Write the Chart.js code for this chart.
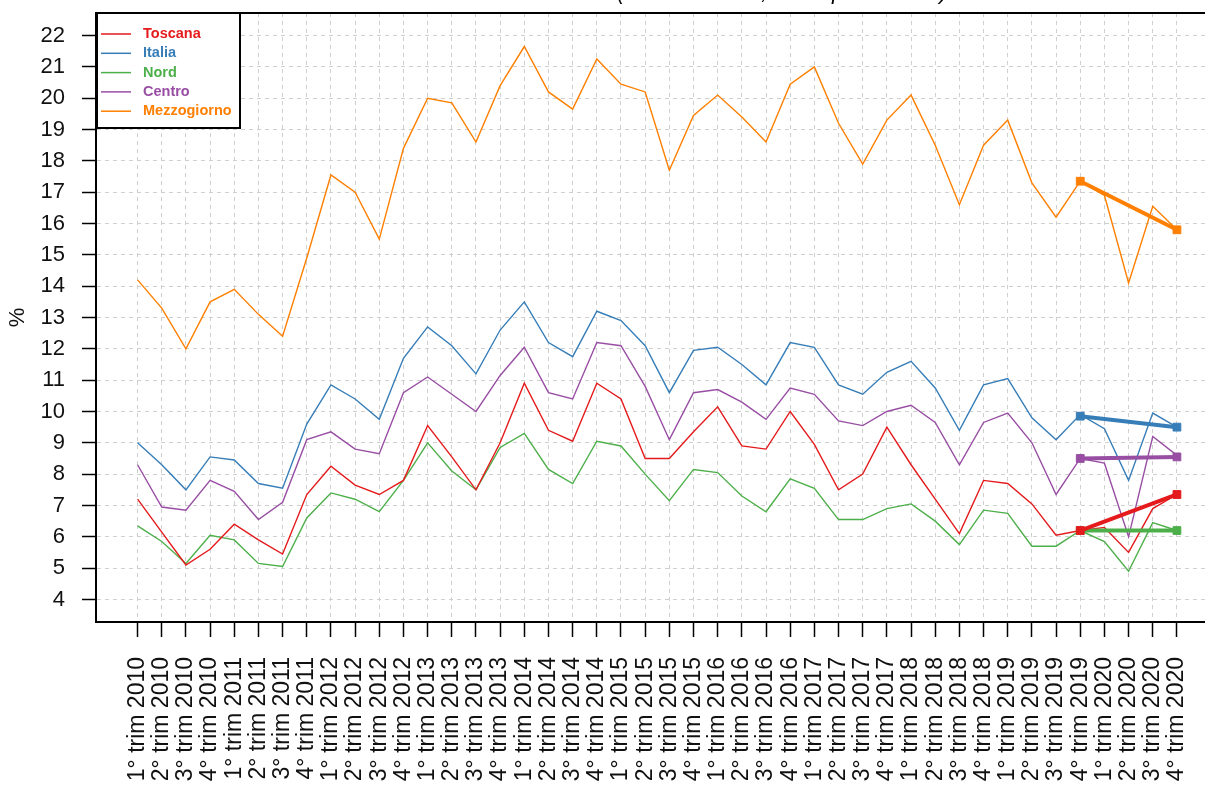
<!DOCTYPE html>
<html>
<head>
<meta charset="utf-8">
<script src="https://cdn.jsdelivr.net/npm/chart.js@4.4.0/dist/chart.umd.min.js"></script>
<style>
  html, body { margin: 0; padding: 0; background: #fff; overflow: hidden; }
  #wrap { width: 1225px; height: 787px; }
</style>
</head>
<body>
<div id="wrap"><canvas id="chart" width="1225" height="787"></canvas></div>
<script>
const quarters = [
  '1° trim 2010', '2° trim 2010', '3° trim 2010', '4° trim 2010',
  '1° trim 2011', '2° trim 2011', '3° trim 2011', '4° trim 2011',
  '1° trim 2012', '2° trim 2012', '3° trim 2012', '4° trim 2012',
  '1° trim 2013', '2° trim 2013', '3° trim 2013', '4° trim 2013',
  '1° trim 2014', '2° trim 2014', '3° trim 2014', '4° trim 2014',
  '1° trim 2015', '2° trim 2015', '3° trim 2015', '4° trim 2015',
  '1° trim 2016', '2° trim 2016', '3° trim 2016', '4° trim 2016',
  '1° trim 2017', '2° trim 2017', '3° trim 2017', '4° trim 2017',
  '1° trim 2018', '2° trim 2018', '3° trim 2018', '4° trim 2018',
  '1° trim 2019', '2° trim 2019', '3° trim 2019', '4° trim 2019',
  '1° trim 2020', '2° trim 2020', '3° trim 2020', '4° trim 2020'
];

const toscana = [7.2, 6.15, 5.1, 5.6, 6.4, 5.9, 5.45, 7.35, 8.25, 7.65, 7.35, 7.8,
  9.55, 8.55, 7.5, 9.0, 10.9, 9.4, 9.05, 10.9, 10.4, 8.5, 8.5, 9.35,
  10.15, 8.9, 8.8, 10.0, 8.95, 7.5, 8.0, 9.5, 8.3, 7.2, 6.1, 7.8,
  7.7, 7.05, 6.05, 6.2, 6.3, 5.5, 6.9, 7.35];
const italia = [9.0, 8.3, 7.5, 8.55, 8.45, 7.7, 7.55, 9.6, 10.85, 10.4, 9.75, 11.7,
  12.7, 12.1, 11.2, 12.6, 13.5, 12.2, 11.75, 13.2, 12.9, 12.1, 10.6, 11.95,
  12.05, 11.5, 10.85, 12.2, 12.05, 10.85, 10.55, 11.25, 11.6, 10.75, 9.4, 10.85,
  11.05, 9.8, 9.1, 9.9, 9.45, 7.8, 9.95, 9.5];
const nord = [6.35, 5.85, 5.15, 6.05, 5.9, 5.15, 5.05, 6.6, 7.4, 7.2, 6.8, 7.8,
  9.0, 8.1, 7.5, 8.85, 9.3, 8.15, 7.7, 9.05, 8.9, 8.0, 7.15, 8.15,
  8.05, 7.3, 6.8, 7.85, 7.55, 6.55, 6.55, 6.9, 7.05, 6.5, 5.75, 6.85,
  6.75, 5.7, 5.7, 6.2, 5.85, 4.9, 6.45, 6.2];
const centro = [8.3, 6.95, 6.85, 7.8, 7.45, 6.55, 7.1, 9.1, 9.35, 8.8, 8.65, 10.6,
  11.1, 10.55, 10.0, 11.15, 12.05, 10.6, 10.4, 12.2, 12.1, 10.8, 9.1, 10.6,
  10.7, 10.3, 9.75, 10.75, 10.55, 9.7, 9.55, 10.0, 10.2, 9.65, 8.3, 9.65,
  9.95, 9.0, 7.35, 8.5, 8.35, 6.0, 9.2, 8.6];
const mezzogiorno = [14.2, 13.3, 12.0, 13.5, 13.9, 13.1, 12.4, 14.9, 17.55, 17.0, 15.5, 18.4,
  20.0, 19.85, 18.6, 20.4, 21.65, 20.2, 19.65, 21.25, 20.45, 20.2, 17.7, 19.45,
  20.1, 19.4, 18.6, 20.45, 21.0, 19.2, 17.9, 19.3, 20.1, 18.5, 16.6, 18.5,
  19.3, 17.3, 16.2, 17.35, 16.9, 14.1, 16.55, 15.8];

const seriesNames = ['Toscana', 'Italia', 'Nord', 'Centro', 'Mezzogiorno'];
const seriesValues = [toscana, italia, nord, centro, mezzogiorno];
const seriesColors = ['#e41a1c', '#377eb8', '#4daf4a', '#984ea3', '#ff7f00'];

// tendenza 4° trim 2019 -> 4° trim 2020
const trendFrom = 39;
const trendTo = 43;
const trendStart = [6.2, 9.85, 6.2, 8.5, 17.35];
const trendEnd = [7.35, 9.5, 6.2, 8.55, 15.8];

const yTicks = [4, 5, 6, 7, 8, 9, 10, 11, 12, 13, 14, 15, 16, 17, 18, 19, 20, 21, 22];
const chartTitle = '(dati trimestrali, valori percentuali)';

const FONT = '"Liberation Sans", Arial, sans-serif';

const datasets = [];
seriesNames.forEach((name, k) => {
  datasets.push({
    label: name,
    data: seriesValues[k].map((v, i) => ({ x: i, y: v })),
    borderColor: seriesColors[k],
    borderWidth: 1.4,
    pointRadius: 0,
    tension: 0,
    order: 1
  });
});
seriesNames.forEach((name, k) => {
  datasets.push({
    label: name + ' trend',
    data: [{ x: trendFrom, y: trendStart[k] }, { x: trendTo, y: trendEnd[k] }],
    borderColor: seriesColors[k],
    backgroundColor: seriesColors[k],
    borderWidth: 4,
    pointStyle: 'rect',
    pointRadius: 5.5,
    pointBorderWidth: 1,
    order: 0
  });
});

// cornice completa dell'area del grafico + legenda + titolo tagliato
const framePlugin = {
  id: 'frame',
  afterDraw(chart) {
    const ctx = chart.ctx;
    const a = chart.chartArea;
    ctx.save();
    ctx.setLineDash([]);
    ctx.lineWidth = 2;
    ctx.strokeStyle = '#000';
    ctx.strokeRect(a.left, a.top, a.right - a.left, a.bottom - a.top);

    // legenda
    const x0 = a.left + 1, y0 = a.top, w = 143, h = 115;
    ctx.fillStyle = '#fff';
    ctx.fillRect(x0, y0, w, h);
    ctx.strokeRect(x0, y0, w, h);
    ctx.font = 'bold 14.5px ' + FONT;
    ctx.textBaseline = 'middle';
    ctx.textAlign = 'left';
    seriesNames.forEach((name, k) => {
      const y = y0 + 21 + k * 19.3;
      ctx.strokeStyle = seriesColors[k];
      ctx.lineWidth = 1.5;
      ctx.beginPath();
      ctx.moveTo(x0 + 4, y);
      ctx.lineTo(x0 + 34, y);
      ctx.stroke();
      ctx.fillStyle = seriesColors[k];
      ctx.fillText(name, x0 + 46, y);
    });

    // titolo (fuori dall'immagine, si vede solo il fondo)
    ctx.fillStyle = '#000';
    ctx.font = 'italic 22px ' + FONT;
    ctx.textAlign = 'center';
    ctx.textBaseline = 'alphabetic';
    ctx.fillText(chartTitle, 782, -1);
    ctx.restore();
  }
};

new Chart(document.getElementById('chart').getContext('2d'), {
  type: 'line',
  data: { datasets: datasets },
  options: {
    responsive: false,
    animation: false,
    layout: { padding: { top: 13, right: 1, left: 0, bottom: 0 } },
    plugins: {
      legend: { display: false },
      tooltip: { enabled: false }
    },
    scales: {
      x: {
        type: 'linear',
        min: -1.72,
        max: 44.72,
        afterBuildTicks: (scale) => { scale.ticks = quarters.map((q, i) => ({ value: i })); },
        afterFit: (scale) => {
          scale.height = 165;
          scale.paddingLeft = 0;
          scale.paddingRight = 0;
        },
        ticks: {
          autoSkip: false,
          maxRotation: 90,
          minRotation: 90,
          padding: 20,
          color: '#111',
          font: { family: FONT, size: 23 },
          callback: (value) => quarters[value]
        },
        grid: {
          color: '#cfcfcf',
          lineWidth: 1,
          tickColor: '#000',
          tickWidth: 1.5,
          tickLength: 15,
          tickBorderDash: []
        },
        border: { display: true, color: '#000', width: 2, dash: [4, 4] }
      },
      y: {
        min: 3.28,
        max: 22.72,
        afterBuildTicks: (scale) => { scale.ticks = yTicks.map(v => ({ value: v })); },
        afterFit: (scale) => {
          scale.width = 96;
          scale.paddingTop = 0;
          scale.paddingBottom = 0;
        },
        ticks: {
          padding: 17,
          color: '#111',
          font: { family: FONT, size: 22 }
        },
        title: {
          display: true,
          text: '%',
          color: '#111',
          font: { family: FONT, size: 22 },
          padding: { top: 5, bottom: 0 }
        },
        grid: {
          color: '#cfcfcf',
          lineWidth: 1,
          tickColor: '#000',
          tickWidth: 1.5,
          tickLength: 14,
          tickBorderDash: []
        },
        border: { display: true, color: '#000', width: 2, dash: [4, 4] }
      }
    }
  },
  plugins: [framePlugin]
});
</script>
</body>
</html>
